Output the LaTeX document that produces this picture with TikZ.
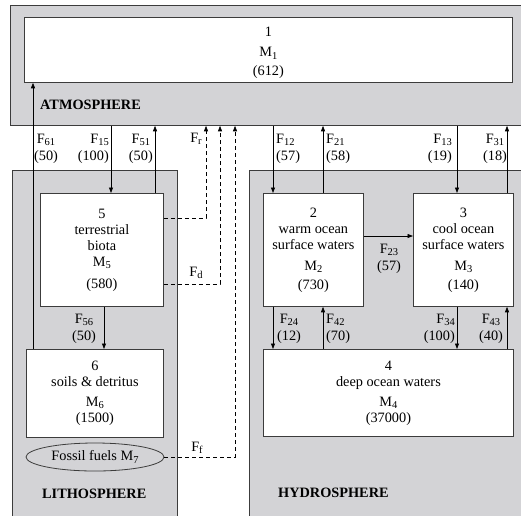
\documentclass[tikz,border=0pt]{standalone}
\usepackage{fontspec}
\setmainfont{Liberation Serif}
\usetikzlibrary{arrows.meta,shapes.geometric}
\definecolor{spheregray}{RGB}{211,211,214}
\definecolor{edgegray}{RGB}{60,60,60}
\newcommand\sbs[1]{\raisebox{-0.35ex}{\fontsize{10.5}{10.5}\selectfont #1}}
\begin{document}
\begin{tikzpicture}[x=1pt,y=-1pt,
  spherebox/.style={draw=edgegray, fill=spheregray, line width=0.8pt, anchor=north west, inner sep=0},
  box/.style={draw=edgegray, fill=white, line width=0.8pt, anchor=north west, align=center, font=\fontsize{14.3}{16}\selectfont, inner sep=0},
  flux/.style={draw=black, line width=0.7pt, -{Triangle[length=5.5pt,width=4pt]}},
  dflux/.style={flux, dash pattern=on 4pt off 3pt},
  lbl/.style={inner sep=0, font=\fontsize{14.3}{17}\selectfont, align=center},
  title/.style={inner sep=0, anchor=west, font=\fontsize{14.3}{16}\selectfont\bfseries}]
\useasboundingbox (0,0) rectangle (521,515);
\clip (0,0) rectangle (521,515);
% spheres
\node[spherebox, minimum width=520, minimum height=120] (atm) at (10,5) {};
\node[spherebox, minimum width=165, minimum height=360] (lith) at (12,170) {};
\node[spherebox, minimum width=280, minimum height=360] (hyd) at (249,170) {};
\node[title] (tatm) at (40,105) {ATMOSPHERE};
\node[title] (tlith) at (42,494) {LITHOSPHERE};
\node[title] (thyd) at (278,493) {HYDROSPHERE};
% reservoirs
\node[box, minimum width=488, minimum height=65] (b1) at (24,17) {\rule{0pt}{16pt}1\\[4pt]M\sbs{1}\\[3pt](612)};
\node[box, minimum width=123, minimum height=113] (b5) at (40,193) {5\\terrestrial\\biota\\M\sbs{5}\\[6pt](580)};
\node[box, minimum width=100, minimum height=113] (b2) at (263,193) {2\\warm ocean\\surface waters\\[5pt]M\sbs{2}\\[3pt](730)};
\node[box, minimum width=100, minimum height=113] (b3) at (413,193) {3\\cool ocean\\surface waters\\[5pt]M\sbs{3}\\[3pt](140)};
\node[box, minimum width=137, minimum height=88] (b6) at (26,349) {6\\soils \& detritus\\[4pt]M\sbs{6}\\(1500)};
\node[box, minimum width=250, minimum height=87] (b4) at (263,349) {4\\deep ocean waters\\[4pt]M\sbs{4}\\(37000)};
\node[ellipse, draw=edgegray, fill=spheregray, line width=0.8pt, inner sep=0, minimum width=138, minimum height=28, font=\fontsize{14.3}{16}\selectfont] (b7) at (95,457) {Fossil fuels M\sbs{7}};
% helper coordinates
\coordinate (x61) at (33,0);
\coordinate (x15) at (111,0);
\coordinate (x51) at (155,0);
\coordinate (x56) at (104,0);
\coordinate (xr) at (206,0);
\coordinate (xd) at (220,0);
\coordinate (xf) at (235,0);
\coordinate (x12) at (273,0);
\coordinate (x21) at (323,0);
\coordinate (x13) at (457,0);
\coordinate (x31) at (507,0);
\coordinate (yr) at (0,218);
\coordinate (yd) at (0,284);
\coordinate (y23) at (0,236);
% fluxes
\draw[flux] (b6.north -| x61) -- (b1.south -| x61);
\draw[flux] (atm.south -| x15) -- (b5.north -| x15);
\draw[flux] (b5.north -| x51) -- (atm.south -| x51);
\draw[flux] (b5.south -| x56) -- (b6.north -| x56);
\draw[dflux] (b5.east |- yr) -| (atm.south -| xr);
\draw[dflux] (b5.east |- yd) -| (atm.south -| xd);
\draw[dflux] (b7.east) -| (atm.south -| xf);
\draw[flux] (atm.south -| x12) -- (b2.north -| x12);
\draw[flux] (b2.north -| x21) -- (atm.south -| x21);
\draw[flux] (atm.south -| x13) -- (b3.north -| x13);
\draw[flux] (b3.north -| x31) -- (atm.south -| x31);
\draw[flux] (b2.east |- y23) -- (b3.west |- y23);
\draw[flux] (b2.south -| x12) -- (b4.north -| x12);
\draw[flux] (b4.north -| x21) -- (b2.south -| x21);
\draw[flux] (b3.south -| x13) -- (b4.north -| x13);
\draw[flux] (b4.north -| x31) -- (b3.south -| x31);
% labels
\node[lbl] (l61) at (46,148.5) {F\sbs{61}\\(50)};
\node[lbl, anchor=east, align=right] (l15) at (109,148.5) {F\sbs{15}\\(100)};
\node[lbl, anchor=east] (l51) at (153,148.5) {F\sbs{51}\\(50)};
\node[lbl] (lr) at (196,139) {F\sbs{r}};
\node[lbl] (ld) at (196,273) {F\sbs{d}};
\node[lbl] (lf) at (197,448) {F\sbs{f}};
\node[lbl] (l56) at (84,328.5) {F\sbs{56}\\(50)};
\node[lbl, anchor=west, align=left] (l12) at (276,148.5) {F\sbs{12}\\(57)};
\node[lbl, anchor=west, align=left] (l21) at (326,148.5) {F\sbs{21}\\(58)};
\node[lbl, anchor=east, align=right] (l13) at (452,148.5) {F\sbs{13}\\(19)};
\node[lbl] (l31) at (495,148.5) {F\sbs{31}\\(18)};
\node[lbl] (l23) at (389,259) {F\sbs{23}\\(57)};
\node[lbl] (l24) at (289,328.5) {F\sbs{24}\\(12)};
\node[lbl, anchor=west, align=left] (l42) at (326,328.5) {F\sbs{42}\\(70)};
\node[lbl, anchor=east, align=right] (l34) at (455,328.5) {F\sbs{34}\\(100)};
\node[lbl] (l43) at (491,328.5) {F\sbs{43}\\(40)};
\end{tikzpicture}
\end{document}
